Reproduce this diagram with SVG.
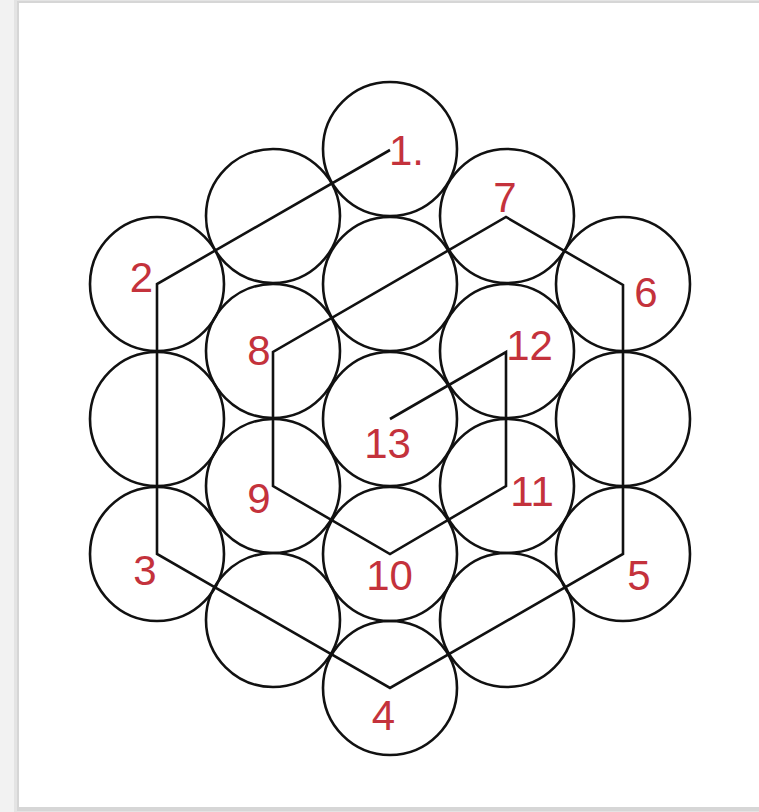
<svg xmlns="http://www.w3.org/2000/svg" width="759" height="812" viewBox="0 0 759 812">
<style>
.c{fill:none;stroke:#111;stroke-width:2.6}
.p{fill:none;stroke:#111;stroke-width:2.6;stroke-linejoin:miter}
.t{font-family:"Liberation Sans",Arial,sans-serif;font-size:42px;fill:#c4323c;text-anchor:middle}
</style>
<rect x="0" y="0" width="759" height="812" fill="#f2f2f2"/>
<rect x="14" y="0" width="745" height="812" fill="#e4e4e4"/>
<rect x="17" y="1" width="742" height="810" fill="#d6d6d6"/>
<rect x="19" y="3" width="740" height="804" fill="#ffffff"/>
<g id="circles">
<circle class="c" cx="390" cy="149" r="67"/>
<circle class="c" cx="390" cy="284" r="67"/>
<circle class="c" cx="390" cy="419" r="67"/>
<circle class="c" cx="390" cy="554" r="67"/>
<circle class="c" cx="390" cy="688" r="67"/>
<circle class="c" cx="273" cy="216" r="67"/>
<circle class="c" cx="273" cy="351" r="67"/>
<circle class="c" cx="273" cy="486" r="67"/>
<circle class="c" cx="273" cy="620" r="67"/>
<circle class="c" cx="507" cy="216" r="67"/>
<circle class="c" cx="507" cy="351" r="67"/>
<circle class="c" cx="507" cy="486" r="67"/>
<circle class="c" cx="507" cy="620" r="67"/>
<circle class="c" cx="157" cy="284" r="67"/>
<circle class="c" cx="157" cy="419" r="67"/>
<circle class="c" cx="157" cy="554" r="67"/>
<circle class="c" cx="623" cy="284" r="67"/>
<circle class="c" cx="623" cy="419" r="67"/>
<circle class="c" cx="623" cy="554" r="67"/>
</g>
<g id="connectors">
<polyline class="p" points="390,150 157,284 157,554 390,688 623,554 623,285 506,217 273,352 273,486 390,554 506,486 506,352 390,419"/>
</g>
<g id="labels">
<text class="t" x="389" y="165" style="text-anchor:start">1.</text>
<text class="t" x="141.5" y="292">2</text>
<text class="t" x="145" y="585">3</text>
<text class="t" x="383.5" y="730">4</text>
<text class="t" x="639" y="590">5</text>
<text class="t" x="646" y="307">6</text>
<text class="t" x="505" y="212">7</text>
<text class="t" x="259" y="365">8</text>
<text class="t" x="259" y="513">9</text>
<text class="t" x="389.5" y="590">10</text>
<text class="t" x="532" y="506">11</text>
<text class="t" x="529.5" y="360">12</text>
<text class="t" x="387.5" y="458">13</text>
</g>
</svg>
